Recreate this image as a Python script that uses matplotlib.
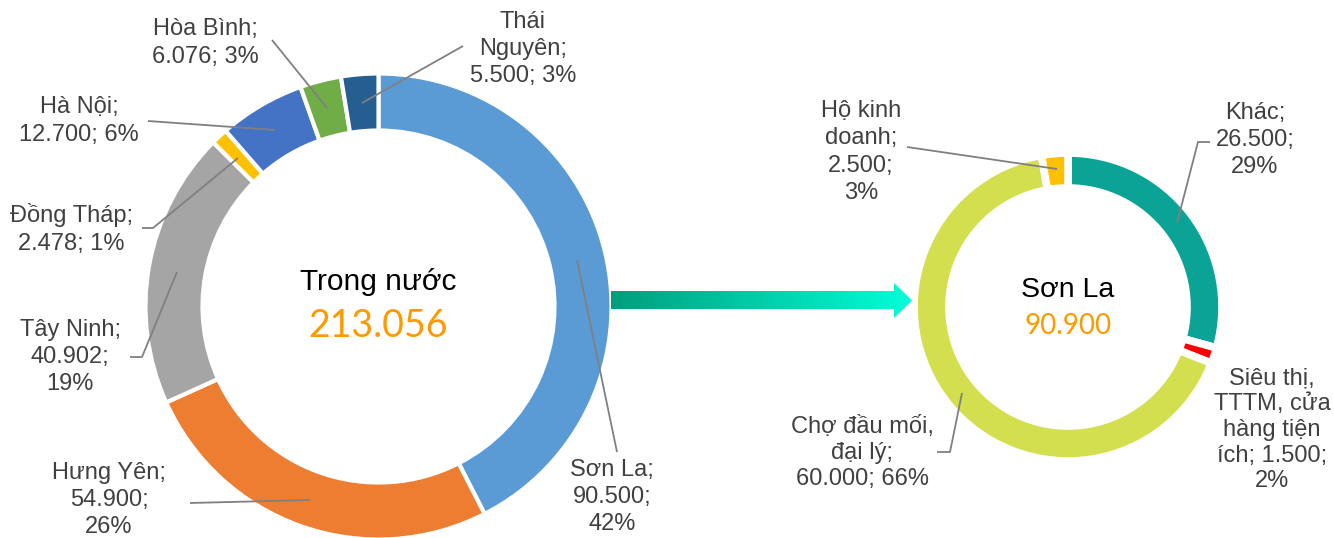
import matplotlib
matplotlib.use("Agg")
import matplotlib.pyplot as plt
from matplotlib.patches import Polygon
from matplotlib.colors import LinearSegmentedColormap
import numpy as np

W, H = 1334, 538

# domestic consumption by province
dom_names = ["Sơn La", "Hưng Yên", "Tây Ninh", "Đồng Tháp", "Hà Nội", "Hòa Bình", "Thái\nNguyên"]
dom_values = [90500, 54900, 40902, 2478, 12700, 6076, 5500]
dom_colors = ["#5B9BD5", "#ED7D31", "#A5A5A5", "#FFC000", "#4472C4", "#70AD47", "#255E91"]
dom_fmt = ["{n};\n{v};\n{p}%", "{n};\n{v};\n{p}%", "{n};\n{v};\n{p}%", "{n};\n{v}; {p}%",
           "{n};\n{v}; {p}%", "{n};\n{v}; {p}%", "{n};\n{v}; {p}%"]
dom_title = "Trong nước"

# Son La breakdown by channel
sl_names = ["Khác", "Siêu thị,\nTTTM, cửa\nhàng tiện\ních", "Chợ đầu mối,\nđại lý", "Hộ kinh\ndoanh"]
sl_values = [26500, 1500, 60000, 2500]
sl_colors = ["#0AA396", "#FF0000", "#D3DF4F", "#FFC000"]
sl_fmt = ["{n};\n{v};\n{p}%", "{n}; {v};\n{p}%", "{n};\n{v}; {p}%", "{n};\n{v};\n{p}%"]
sl_title = "Sơn La"
sl_total = 90900

LABEL_COL = "#404040"
LINE_COL = "#808080"


def fy(y):
    return H - y


def fmt(v):
    return f"{v:,}".replace(",", ".")


def draw_ring(ax, values, colors, cx, cy, r, width, lw, explode=None):
    ax.pie(values, colors=colors, startangle=90, counterclock=False,
           radius=r, center=(cx, fy(cy)), explode=explode,
           wedgeprops=dict(width=width, edgecolor="white", linewidth=lw))


def draw_labels(ax, names, values, fmts, total, layout):
    for name, val, f, (tx, ty, sp, pts) in zip(names, values, fmts, layout):
        pct = int(round(val / total * 100))
        s = f.format(n=name, v=fmt(val), p=pct)
        ax.text(tx, fy(ty), s, ha="center", va="center", fontsize=17,
                color=LABEL_COL, linespacing=sp, multialignment="center")
        if pts:
            xs = [p[0] for p in pts]
            ys = [fy(p[1]) for p in pts]
            ax.plot(xs, ys, color=LINE_COL, lw=1.3, solid_capstyle="butt")


fig = plt.figure(figsize=(W / 100, H / 100), dpi=100)
ax = fig.add_axes([0, 0, 1, 1])
plt.rcParams["font.family"] = ["Liberation Sans", "DejaVu Sans"]

# left ring
draw_ring(ax, dom_values, dom_colors, 378.5, 306.5, 233, 57, 3)

# right ring, the two thin slices pulled out a little
sl_explode = [0, 0.025, 0, 0.025]
draw_ring(ax, sl_values, sl_colors, 1068, 307, 154, 35, 5.5, sl_explode)

# text centre, line spacing and leader line points for every slice
dom_layout = [
    (612, 497, 1.32, [(577, 260), (617, 452)]),
    (109, 500, 1.32, [(190, 503), (310, 500)]),
    (70, 357, 1.32, [(130, 357), (142, 357), (177, 272)]),
    (71, 229, 1.32, [(142, 228), (153, 228), (238, 158)]),
    (79, 121, 1.32, [(148, 121), (275, 130)]),
    (205, 43, 1.32, [(272, 40), (327, 108)]),
    (523, 49, 1.32, [(463, 46), (362, 103)]),
]
sl_layout = [
    (1255, 140, 1.32, [(1210, 142), (1198, 142), (1177, 223)]),
    (1272, 430, 1.22, None),
    (862, 453, 1.22, [(937, 452), (950, 452), (962, 393)]),
    (861, 152, 1.32, [(907, 147), (1057, 169)]),
]

draw_labels(ax, dom_names, dom_values, dom_fmt, sum(dom_values), dom_layout)
draw_labels(ax, sl_names, sl_values, sl_fmt, sum(sl_values), sl_layout)

# centre captions
ax.text(378.5, fy(282), dom_title, ha="center", va="center", fontsize=21.5, color="black")
ax.text(378.5, fy(326), fmt(sum(dom_values)), ha="center", va="center", fontsize=27,
        color="#FF9900", family=["Lato", "DejaVu Sans"])
ax.text(1068, fy(290), sl_title, ha="center", va="center", fontsize=20.5, color="black")
ax.text(1068, fy(326), fmt(sl_total), ha="center", va="center", fontsize=20,
        color="#FF9900", family=["Lato", "DejaVu Sans"])

# gradient arrow between the two rings
arrow_pts = [(611, 291), (894, 291), (894, 283), (912, 300.5), (894, 318), (894, 309), (611, 309)]
arrow = Polygon([(x, fy(y)) for x, y in arrow_pts], closed=True, facecolor="none",
                edgecolor="none", transform=ax.transData)
ax.add_patch(arrow)
cmap = LinearSegmentedColormap.from_list("arrow", ["#009E7C", "#00FFD8"])
grad = np.linspace(0, 1, 256).reshape(1, -1)
im = ax.imshow(grad, extent=(611, 912, fy(318), fy(283)), cmap=cmap, aspect="auto",
               interpolation="bilinear", zorder=3)
im.set_clip_path(arrow)

ax.set_xlim(0, W)
ax.set_ylim(0, H)
ax.set_aspect("auto")
ax.axis("off")

plt.savefig("out.png", dpi=100, facecolor="white")
plt.close(fig)
